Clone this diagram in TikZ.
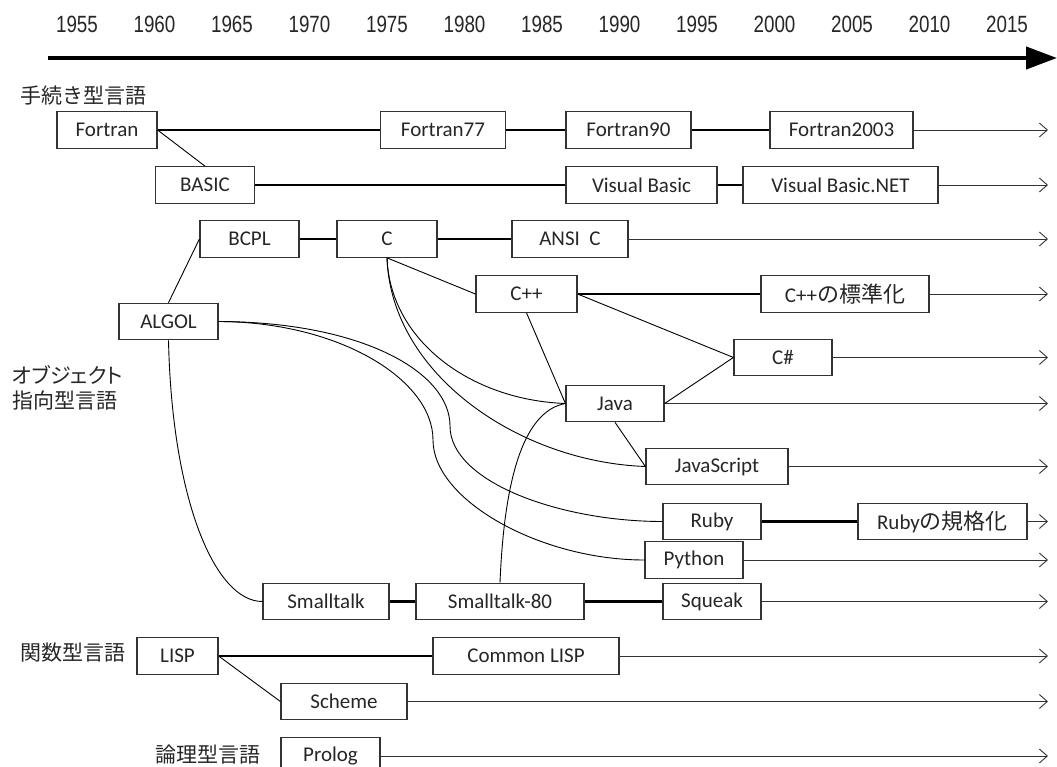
\documentclass[tikz,border=0pt]{standalone}
\usepackage{fontspec}
\setmainfont{Carlito}
\newfontfamily\jp{Noto Sans CJK JP}
\newfontfamily\yearfont[FakeStretch=0.8]{Liberation Sans}
\usetikzlibrary{arrows.meta}

\begin{document}
\begin{tikzpicture}[x=1pt,y=-1pt,
  lang/.style={draw=black!80, line width=1.2pt, minimum height=36.5pt, inner sep=0pt,
    text=black!85, font=\fontsize{21}{24}\selectfont},
  bond/.style={line width=2.2pt},
  link/.style={line width=0.9pt},
  flow/.style={line width=0.9pt, draw=black!80,
    -{Straight Barb[length=8pt,width=14pt,line width=0.9pt]}},
  cat/.style={font=\jp\fontsize{21}{25}\selectfont, text=black!85, inner sep=0pt},
  yr/.style={font=\yearfont\fontsize{23.5}{25}\selectfont, text=black!85, inner sep=0pt}]

\useasboundingbox (0,0) rectangle (1057,767);

% time axis
\foreach \yy [count=\i from 0] in {1955,1960,...,2015}
  \node[yr] (y\yy) at ({77+77.5*\i},24) {\yy};
\coordinate (axisL) at (48,58);
\coordinate (axisR) at (1057,58);
\draw[line width=4.2pt, -{Triangle[length=31pt,width=22pt]}] (axisL) -- (axisR);

% right end of every language line
\coordinate (end) at (1048,0);

% category labels
\node[cat, anchor=west] (proc) at (20,96) {手続き型言語};
\node[cat, anchor=west, align=left] (oop) at (12,387.5)
  {{\addfontfeature{RawFeature=+palt}オブジェクト}\\指向型言語};
\node[cat, anchor=west] (func) at (20,653) {関数型言語};
\node[cat, anchor=west] (logic) at (155,755) {論理型言語};

% procedural languages
\node[lang, minimum width=100] (fortran) at (107,130) {Fortran};
\node[lang, minimum width=125] (f77) at (443,130) {Fortran77};
\node[lang, minimum width=125] (f90) at (628.5,130) {Fortran90};
\node[lang, minimum width=143] (f2003) at (841.5,130) {Fortran2003};
\node[lang, minimum width=99] (basic) at (205,185) {BASIC};
\node[lang, minimum width=151] (vb) at (641.5,185) {Visual Basic};
\node[lang, minimum width=195] (vbnet) at (840.5,185) {Visual Basic.NET};

% object-oriented languages
\node[lang, minimum width=99] (bcpl) at (249.5,239) {BCPL};
\node[lang, minimum width=100] (c) at (387,239) {C};
\node[lang, minimum width=116] (ansic) at (570,239) {ANSI\ \ C};
\node[lang, minimum width=101] (cpp) at (526.5,294) {C++};
\node[lang, minimum width=168] (cppstd) at (845,294) {C++{\jp\fontsize{22}{24}\selectfont の標準化}};
\node[lang, minimum width=99] (algol) at (168.5,321.5) {ALGOL};
\node[lang, minimum width=98] (csharp) at (783,357.5) {C\#};
\node[lang, minimum width=98] (java) at (615,403.5) {Java};
\node[lang, minimum width=142] (js) at (717,466.5) {JavaScript};
\node[lang, minimum width=98] (ruby) at (712,521.5) {Ruby};
\node[lang, minimum width=169] (rubystd) at (942.5,521.5) {Ruby{\jp\fontsize{22}{24}\selectfont の規格化}};
\node[lang, minimum width=98] (python) at (694,560) {Python};
\node[lang, minimum width=126] (smalltalk) at (326,601.5) {Smalltalk};
\node[lang, minimum width=168] (st80) at (500,601.5) {Smalltalk-80};
\node[lang, minimum width=98] (squeak) at (712,601.5) {Squeak};

% functional and logic languages
\node[lang, minimum width=81] (lisp) at (177.5,656) {LISP};
\node[lang, minimum width=186] (commonlisp) at (526,656) {Common LISP};
\node[lang, minimum width=126] (scheme) at (344,701.5) {Scheme};
\node[lang, minimum width=99] (prolog) at (330.5,756) {Prolog};

% successions within a line
\draw[bond] (fortran.east) -- (f77.west) (f77.east) -- (f90.west) (f90.east) -- (f2003.west);
\draw[bond] (basic.east) -- (vb.west) (vb.east) -- (vbnet.west);
\draw[bond] (bcpl.east) -- (c.west) (c.east) -- (ansic.west);
\draw[bond] (cpp.east) -- (cppstd.west);
\draw[bond] (ruby.east) -- (rubystd.west);
\draw[bond] (smalltalk.east) -- (st80.west) (st80.east) -- (squeak.west);
\draw[bond] (lisp.east) -- (commonlisp.west);

% lines still in use
\foreach \n in {f2003,vbnet,ansic,cppstd,csharp,java,js,rubystd,python,squeak,commonlisp,scheme,prolog}
  \draw[flow] (\n.east) -- (\n.east -| end);

% influences
\draw[link] (fortran.east) -- (basic.north);
\draw[link] (algol.north) -- (bcpl.west);
\draw[link] (c.south) -- (cpp.west);
\draw[link] (cpp.south) -- (java.west);
\draw[link] (cpp.east) -- (csharp.west);
\draw[link] (java.east) -- (csharp.west);
\draw[link] (java.south) -- (js.west);
\draw[link] (lisp.east) -- (scheme.west);
\draw[link] (c.south) .. controls (390,340) and (470,400) .. (java.west);
\draw[link] (c.south) .. controls (391,375) and (520,462) .. (js.west);
\coordinate (bendP) at (433,440);
\coordinate (bendR) at (450,426);
\draw[link] (algol.east) .. controls (340,322) and (433,380) .. (bendP)
  .. controls (433,500) and (540,560) .. (python.west);
\draw[link] (algol.east) .. controls (362,322) and (450,372) .. (bendR)
  .. controls (450,482) and (560,521.5) .. (ruby.west);
\draw[link] (algol.south) .. controls (172,500) and (215,601.5) .. (smalltalk.west);
\draw[link] (st80.north) .. controls (505,460) and (530,410) .. (java.west);
\end{tikzpicture}
\end{document}
